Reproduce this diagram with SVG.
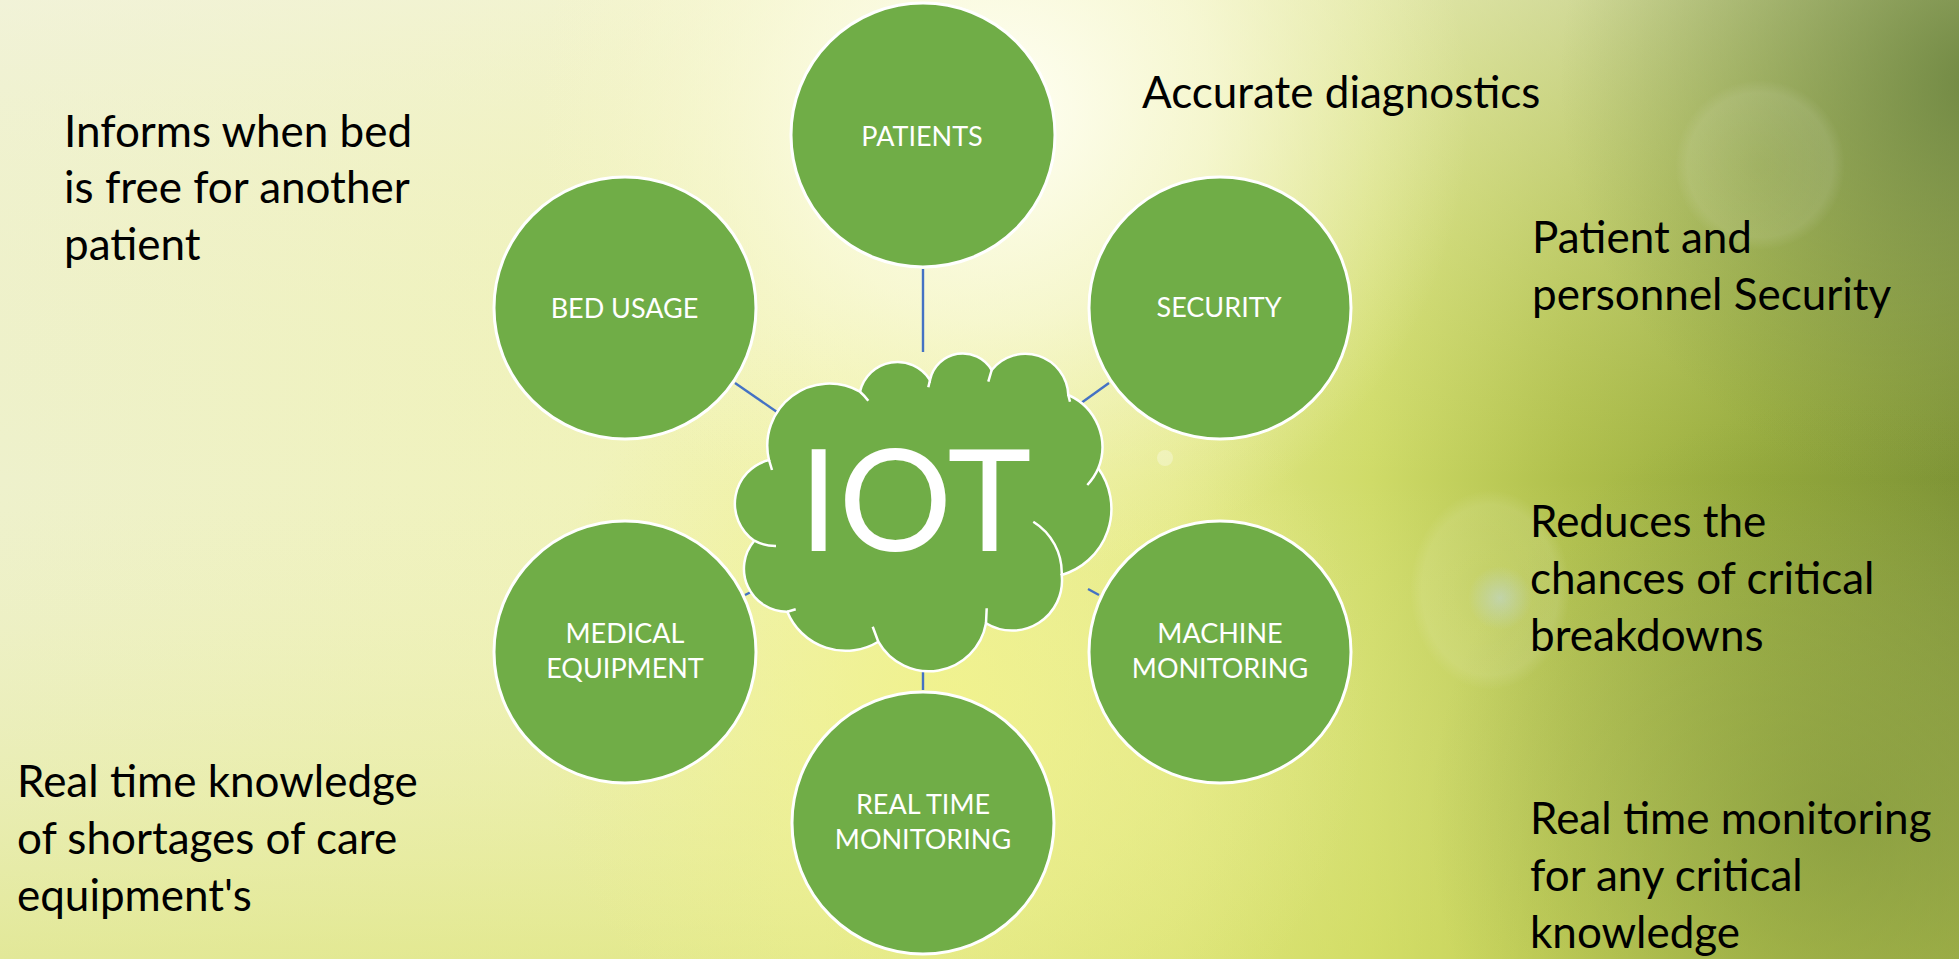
<svg xmlns="http://www.w3.org/2000/svg" width="1959" height="959" viewBox="0 0 1959 959">
<defs>
<linearGradient id="bgx" x1="0" y1="0" x2="1" y2="0">
<stop offset="0" stop-color="#eef1cc"/>
<stop offset="0.42" stop-color="#f1f3b4"/>
<stop offset="0.6" stop-color="#e2e88a"/>
<stop offset="0.7" stop-color="#cfdb68"/>
<stop offset="0.8" stop-color="#b0c04c"/>
<stop offset="0.9" stop-color="#95aa3c"/>
<stop offset="1" stop-color="#7f9536"/>
</linearGradient>
<linearGradient id="bgy" x1="0" y1="0" x2="0" y2="1">
<stop offset="0" stop-color="#f4f4e4" stop-opacity="0.5"/>
<stop offset="0.5" stop-color="#eef0b0" stop-opacity="0"/>
<stop offset="1" stop-color="#d6df64" stop-opacity="0.5"/>
</linearGradient>
<radialGradient id="glow" cx="1000" cy="110" r="470" gradientUnits="userSpaceOnUse">
<stop offset="0" stop-color="#fffff4" stop-opacity="1"/>
<stop offset="0.45" stop-color="#fbfbe0" stop-opacity="0.7"/>
<stop offset="1" stop-color="#f6f6c8" stop-opacity="0"/>
</radialGradient>
<radialGradient id="yel" cx="950" cy="700" r="420" gradientUnits="userSpaceOnUse">
<stop offset="0" stop-color="#f2f38a" stop-opacity="0.8"/>
<stop offset="1" stop-color="#eef08a" stop-opacity="0"/>
</radialGradient>
<radialGradient id="dark" cx="1980" cy="80" r="420" gradientUnits="userSpaceOnUse">
<stop offset="0" stop-color="#66803a" stop-opacity="0.85"/>
<stop offset="1" stop-color="#7a9038" stop-opacity="0"/>
</radialGradient>
<radialGradient id="dark2" cx="1850" cy="820" r="420" gradientUnits="userSpaceOnUse">
<stop offset="0" stop-color="#7c9238" stop-opacity="0.6"/>
<stop offset="1" stop-color="#7c9238" stop-opacity="0"/>
</radialGradient>
<radialGradient id="bokeh" cx="0.5" cy="0.5" r="0.5">
<stop offset="0" stop-color="#ffffff" stop-opacity="0.06"/>
<stop offset="0.85" stop-color="#ffffff" stop-opacity="0.1"/>
<stop offset="1" stop-color="#ffffff" stop-opacity="0"/>
</radialGradient>
<radialGradient id="blue" cx="0.5" cy="0.5" r="0.5">
<stop offset="0" stop-color="#c0d6d4" stop-opacity="0.6"/>
<stop offset="1" stop-color="#c0d6d4" stop-opacity="0"/>
</radialGradient>
<style>
.node circle{fill:#70AD47;stroke:#ffffff;stroke-width:3}
.lbl{font-family:Lato,"Open Sans","DejaVu Sans",sans-serif;font-size:27px;fill:#ffffff;text-anchor:middle}
.big{font-family:Lato,"Open Sans","DejaVu Sans",sans-serif;font-size:44px;fill:#000000}
.conn line{stroke:#4472C4;stroke-width:2.4}
.cloud{fill:#70AD47;stroke:#ffffff;stroke-width:2.5}
.inner{fill:none;stroke:#ffffff;stroke-width:2.5}
</style>
</defs>
<g id="background">
<rect width="1959" height="959" fill="url(#bgx)"/>
<rect width="1959" height="959" fill="url(#bgy)"/>
<rect width="1959" height="959" fill="url(#yel)"/>
<rect width="1959" height="959" fill="url(#glow)"/>
<rect width="1959" height="959" fill="url(#dark)"/>
<rect width="1959" height="959" fill="url(#dark2)"/>
<circle cx="1760" cy="165" r="85" fill="url(#bokeh)"/>
<ellipse cx="1490" cy="590" rx="80" ry="100" fill="url(#bokeh)"/>
<circle cx="1500" cy="598" r="32" fill="url(#blue)"/>
<circle cx="1165" cy="458" r="8" fill="#ffffff" opacity="0.3"/>
</g>
<g class="conn" id="connectors">
<line x1="923" y1="269" x2="923" y2="352"/>
<line x1="735" y1="383" x2="777" y2="412"/>
<line x1="1109" y1="383" x2="1070" y2="411"/>
<line x1="745" y1="595" x2="759" y2="588"/>
<line x1="1088" y1="589" x2="1099" y2="595"/>
<line x1="923" y1="671" x2="923" y2="690"/>
</g>
<g class="node" id="patients"><circle cx="923" cy="135" r="132"/><text class="lbl" x="922" y="146">PATIENTS</text></g>
<g class="node" id="bed-usage"><circle cx="625" cy="308" r="131"/><text class="lbl" x="624.5" y="318">BED USAGE</text></g>
<g class="node" id="security"><circle cx="1220" cy="308" r="131"/><text class="lbl" x="1219" y="317">SECURITY</text></g>
<g class="node" id="medical-equipment"><circle cx="625" cy="652" r="131"/><text class="lbl" x="625" y="643">MEDICAL</text><text class="lbl" x="625" y="678">EQUIPMENT</text></g>
<g class="node" id="machine-monitoring"><circle cx="1220" cy="652" r="131"/><text class="lbl" x="1220" y="643">MACHINE</text><text class="lbl" x="1220" y="678">MONITORING</text></g>
<g class="node" id="real-time-monitoring"><circle cx="923" cy="823" r="131"/><text class="lbl" x="923" y="814">REAL TIME</text><text class="lbl" x="923" y="849">MONITORING</text></g>
<g id="iot">
<path class="cloud" d="M754.3,540.7 A45,45 0 0 1 769,460 A62,62 0 0 1 860,391.7 A38.4,38.4 0 0 1 930,380 A33.5,33.5 0 0 1 991.7,370 A43,43 0 0 1 1068.3,395 A57,57 0 0 1 1098.3,468.3 A69,69 0 0 1 1061.7,575 A50,50 0 0 1 986,623.3 A58,58 0 0 1 878.3,641.7 A63,63 0 0 1 787.3,611.7 A43,43 0 0 1 754.3,540.7 Z"/>
<path class="inner" d="M754.3,540.7 A45,45 0 0 0 776,546 M769,460 L772,470 M860,391.7 A62,62 0 0 1 868.3,400.7 M930,380 L928.3,387.3 M991.7,370 L988.3,381.7 M1068.3,395 L1070,401.7 M1098.3,468.3 A57,57 0 0 1 1087.3,485 M1033.3,521.7 A60,60 0 0 1 1061.7,575 M986,623.3 L986.7,608.3 M878.3,641.7 L872.7,626.7 M787.3,611.7 L795.7,609.3"/>
<text x="915" y="551" font-family="Lato,'Open Sans','DejaVu Sans',sans-serif" font-size="142" fill="#ffffff" text-anchor="middle">IOT</text>
</g>
<g id="notes">
<text class="big" x="64" y="147">Informs when bed</text>
<text class="big" x="64" y="203">is free for another</text>
<text class="big" x="64" y="260">patient</text>
<text class="big" x="1142" y="108">Accurate diagnostics</text>
<text class="big" x="1532" y="253">Patient and</text>
<text class="big" x="1532" y="310">personnel Security</text>
<text class="big" x="1530" y="537">Reduces the</text>
<text class="big" x="1530" y="594">chances of critical</text>
<text class="big" x="1530" y="651">breakdowns</text>
<text class="big" x="1530" y="834">Real time monitoring</text>
<text class="big" x="1530" y="891">for any critical</text>
<text class="big" x="1530" y="948">knowledge</text>
<text class="big" x="17" y="797">Real time knowledge</text>
<text class="big" x="17" y="854">of shortages of care</text>
<text class="big" x="17" y="911">equipment's</text>
</g>
</svg>
